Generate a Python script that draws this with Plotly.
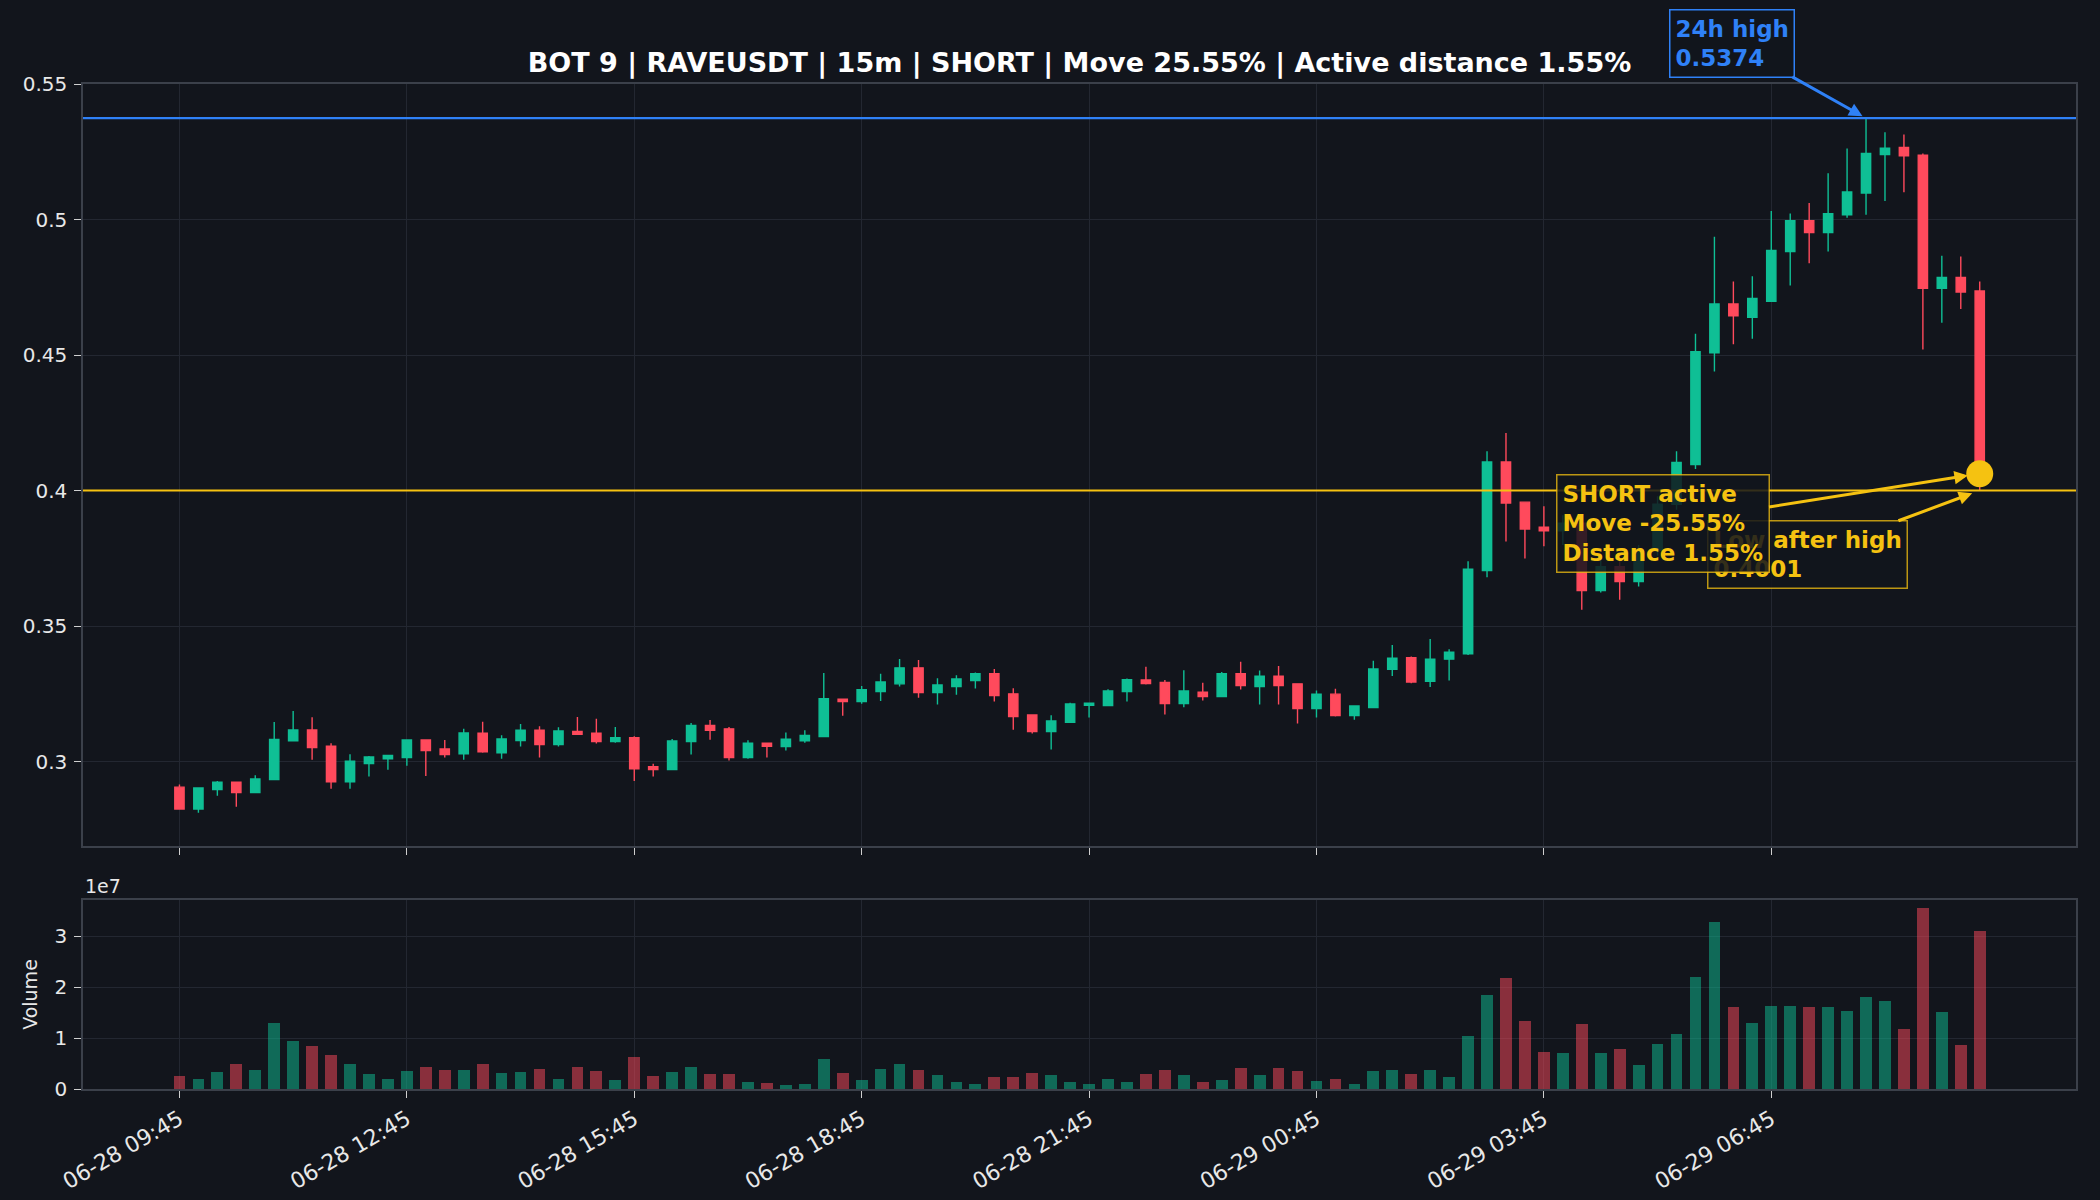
import pandas as pd
import plotly.graph_objects as go

# ---------------- data ----------------
start_time = "2025-06-28 09:45"
opens = [0.2907, 0.2826, 0.2898, 0.2925, 0.2887, 0.2935, 0.3078, 0.3118, 0.3058, 0.2927,
         0.2994, 0.3012, 0.3016, 0.3081, 0.3048, 0.3030, 0.3106, 0.3034, 0.3079, 0.3117,
         0.3064, 0.3112, 0.3106, 0.3075, 0.3089, 0.2982, 0.2972, 0.3075, 0.3135, 0.3122,
         0.3016, 0.3069, 0.3057, 0.3078, 0.3094, 0.3231, 0.3223, 0.3260, 0.3288, 0.3347,
         0.3256, 0.3278, 0.3300, 0.3325, 0.3251, 0.3173, 0.3112, 0.3146, 0.3209, 0.3208,
         0.3260, 0.3302, 0.3293, 0.3215, 0.3257, 0.3241, 0.3325, 0.3278, 0.3316, 0.3288,
         0.3197, 0.3250, 0.3171, 0.3201, 0.3342, 0.3384, 0.3297, 0.3379, 0.3399, 0.3706,
         0.4106, 0.3958, 0.3866, 0.3852, 0.3880, 0.3632, 0.3720, 0.3665, 0.3780, 0.3950,
         0.4097, 0.4509, 0.4689, 0.4640, 0.4699, 0.4882, 0.4996, 0.4952, 0.5018, 0.5098,
         0.5240, 0.5266, 0.5237, 0.4747, 0.4787, 0.4737]
highs = [0.2917, 0.2904, 0.2930, 0.2928, 0.2951, 0.3147, 0.3188, 0.3165, 0.3069, 0.3028,
         0.3022, 0.3024, 0.3083, 0.3083, 0.3081, 0.3122, 0.3148, 0.3098, 0.3140, 0.3132,
         0.3128, 0.3166, 0.3159, 0.3129, 0.3095, 0.2993, 0.3085, 0.3144, 0.3155, 0.3129,
         0.3080, 0.3069, 0.3109, 0.3117, 0.3328, 0.3231, 0.3280, 0.3325, 0.3380, 0.3376,
         0.3309, 0.3320, 0.3330, 0.3343, 0.3272, 0.3176, 0.3172, 0.3218, 0.3217, 0.3268,
         0.3308, 0.3351, 0.3302, 0.3338, 0.3292, 0.3332, 0.3369, 0.3337, 0.3354, 0.3288,
         0.3263, 0.3270, 0.3207, 0.3373, 0.3431, 0.3389, 0.3453, 0.3416, 0.3740, 0.4146,
         0.4213, 0.3958, 0.3943, 0.3910, 0.3890, 0.3750, 0.3740, 0.3800, 0.3980, 0.4146,
         0.4579, 0.4937, 0.4772, 0.4791, 0.5032, 0.5022, 0.5061, 0.5171, 0.5262, 0.5374,
         0.5322, 0.5314, 0.5244, 0.4867, 0.4864, 0.4772]
lows = [0.2824, 0.2813, 0.2875, 0.2835, 0.2887, 0.2935, 0.3078, 0.3008, 0.2901, 0.2901,
        0.2946, 0.2971, 0.2986, 0.2948, 0.3016, 0.3008, 0.3034, 0.3012, 0.3057, 0.3016,
        0.3057, 0.3102, 0.3068, 0.3071, 0.2930, 0.2946, 0.2972, 0.3027, 0.3082, 0.3005,
        0.3012, 0.3016, 0.3042, 0.3071, 0.3094, 0.3170, 0.3215, 0.3225, 0.3278, 0.3237,
        0.3212, 0.3248, 0.3271, 0.3223, 0.3119, 0.3105, 0.3046, 0.3146, 0.3164, 0.3208,
        0.3223, 0.3286, 0.3175, 0.3202, 0.3227, 0.3241, 0.3267, 0.3212, 0.3212, 0.3142,
        0.3164, 0.3168, 0.3156, 0.3201, 0.3317, 0.3290, 0.3276, 0.3300, 0.3394, 0.3681,
        0.3813, 0.3750, 0.3795, 0.3800, 0.3561, 0.3625, 0.3598, 0.3647, 0.3760, 0.3930,
        0.4080, 0.4440, 0.4540, 0.4561, 0.4699, 0.4757, 0.4839, 0.4882, 0.5007, 0.5018,
        0.5069, 0.5101, 0.4521, 0.4620, 0.4670, 0.4001]
closes = [0.2826, 0.2904, 0.2925, 0.2887, 0.2937, 0.3083, 0.3118, 0.3053, 0.2927, 0.3003,
          0.3018, 0.3024, 0.3081, 0.3042, 0.3027, 0.3107, 0.3037, 0.3085, 0.3117, 0.3064,
          0.3114, 0.3102, 0.3075, 0.3089, 0.2975, 0.2972, 0.3077, 0.3135, 0.3117, 0.3016,
          0.3069, 0.3058, 0.3084, 0.3098, 0.3233, 0.3223, 0.3266, 0.3295, 0.3347, 0.3256,
          0.3284, 0.3306, 0.3325, 0.3245, 0.3167, 0.3112, 0.3151, 0.3214, 0.3217, 0.3262,
          0.3303, 0.3289, 0.3215, 0.3262, 0.3241, 0.3325, 0.3282, 0.3316, 0.3282, 0.3197,
          0.3250, 0.3171, 0.3206, 0.3343, 0.3383, 0.3295, 0.3379, 0.3405, 0.3711, 0.4106,
          0.3955, 0.3859, 0.3852, 0.3880, 0.3632, 0.3720, 0.3665, 0.3780, 0.3950, 0.4104,
          0.4513, 0.4689, 0.4645, 0.4709, 0.4886, 0.4996, 0.4952, 0.5022, 0.5102, 0.5244,
          0.5263, 0.5235, 0.4747, 0.4787, 0.4733, 0.4063]
volumes = [2.6e6, 2.0e6, 3.4e6, 5.0e6, 3.8e6, 12.9e6, 9.5e6, 8.5e6, 6.6e6, 5.0e6,
           3.0e6, 2.0e6, 3.6e6, 4.4e6, 3.8e6, 3.8e6, 5.0e6, 3.2e6, 3.4e6, 4.0e6,
           2.0e6, 4.4e6, 3.6e6, 1.8e6, 6.2e6, 2.6e6, 3.4e6, 4.4e6, 3.0e6, 3.0e6,
           1.4e6, 1.2e6, 0.7e6, 0.9e6, 5.8e6, 3.2e6, 1.8e6, 4.0e6, 5.0e6, 3.8e6,
           2.8e6, 1.4e6, 1.0e6, 2.4e6, 2.4e6, 3.2e6, 2.8e6, 1.4e6, 0.9e6, 2.0e6,
           1.4e6, 3.0e6, 3.8e6, 2.8e6, 1.4e6, 1.8e6, 4.2e6, 2.8e6, 4.2e6, 3.6e6,
           1.6e6, 2.0e6, 1.0e6, 3.6e6, 3.8e6, 3.0e6, 3.8e6, 2.4e6, 10.5e6, 18.4e6,
           21.8e6, 13.4e6, 7.3e6, 7.1e6, 12.7e6, 7.1e6, 7.9e6, 4.8e6, 8.9e6, 10.7e6,
           22.0e6, 32.8e6, 16.0e6, 13.0e6, 16.2e6, 16.2e6, 16.0e6, 16.0e6, 15.4e6, 18.0e6,
           17.2e6, 11.7e6, 35.5e6, 15.2e6, 8.7e6, 31.1e6]
high_24h = 0.5374
low_after_high = 0.4001
last_price = closes[-1]
price_ticks = [0.3, 0.35, 0.4, 0.45, 0.5, 0.55]
price_tick_labels = ["0.3", "0.35", "0.4", "0.45", "0.5", "0.55"]
volume_ticks = [0, 1e7, 2e7, 3e7]
volume_tick_labels = ["0", "1", "2", "3"]
title_text = "BOT 9 | RAVEUSDT | 15m | SHORT | Move 25.55% | Active distance 1.55%"
high_label = "24h high<br>0.5374"
short_label = "SHORT active<br>Move -25.55%<br>Distance 1.55%"
low_label = "Low after high<br>0.4001"

# ---------------- styling ----------------
BG = "#12151c"
UP = "#0fbf95"
DN = "#ff4a5c"
GOLD = "#f5c211"
BLUE = "#2f81f7"
GRID = "#232731"
SPINE = "#3b404a"
TXT = "#e8e8e8"
FONT = "DejaVu Sans"

times = pd.date_range(start_time, periods=len(closes), freq="15min")
x = [t.strftime("%Y-%m-%d %H:%M:%S") for t in times]
step = pd.Timedelta(minutes=15)
x_range = [(times[0] - 5.09 * step).strftime("%Y-%m-%d %H:%M:%S"),
           (times[0] + 100.08 * step).strftime("%Y-%m-%d %H:%M:%S")]
tick_vals = x[::12]
tick_text = [t.strftime("%m-%d %H:%M") for t in times[::12]]
vol_colors = [UP if c >= o else DN for o, c in zip(opens, closes)]

fig = go.Figure()
fig.add_trace(go.Candlestick(
    x=x, open=opens, high=highs, low=lows, close=closes,
    increasing=dict(line=dict(color=UP, width=1.4), fillcolor=UP),
    decreasing=dict(line=dict(color=DN, width=1.4), fillcolor=DN),
    whiskerwidth=0, xaxis="x", yaxis="y", showlegend=False, hoverinfo="skip"))
fig.add_trace(go.Bar(
    x=x, y=volumes, marker=dict(color=vol_colors, line=dict(width=0)), opacity=0.5,
    width=0.62 * 15 * 60 * 1000, xaxis="x2", yaxis="y2", showlegend=False))
fig.add_trace(go.Scatter(
    x=[x[-1]], y=[last_price], mode="markers",
    marker=dict(size=27, color=GOLD), xaxis="x", yaxis="y", showlegend=False))

fig.add_shape(type="line", xref="x domain", yref="y", x0=0, x1=1,
              y0=high_24h, y1=high_24h, line=dict(color=BLUE, width=2.2), layer="above")
fig.add_shape(type="line", xref="x domain", yref="y", x0=0, x1=1,
              y0=low_after_high, y1=low_after_high, line=dict(color=GOLD, width=2.2), layer="above")

ann_font = dict(family=FONT, size=23, color=GOLD)
fig.add_annotation(x=x[89], y=high_24h, xref="x", yref="y", text="<b>" + high_label + "</b>",
                   showarrow=True, ax=-134, ay=-75, arrowcolor=BLUE, arrowwidth=3, arrowhead=2,
                   arrowsize=0.9, standoff=4, align="left", bgcolor="rgba(18,21,28,0.85)",
                   bordercolor=BLUE, borderwidth=1.5, borderpad=5,
                   font=dict(family=FONT, size=23, color=BLUE))
fig.add_annotation(x=x[-1], y=low_after_high, xref="x", yref="y", text="<b>" + low_label + "</b>",
                   showarrow=True, ax=-172, ay=64, arrowcolor=GOLD, arrowwidth=3, arrowhead=2,
                   arrowsize=0.9, standoff=8, align="left", bgcolor="rgba(18,21,28,0.85)",
                   bordercolor="rgba(245,194,17,0.75)", borderwidth=1.5, borderpad=5,
                   font=ann_font)
fig.add_annotation(x=x[-1], y=last_price, xref="x", yref="y", text="<b>" + short_label + "</b>",
                   showarrow=True, ax=-317, ay=50, arrowcolor=GOLD, arrowwidth=3, arrowhead=2,
                   arrowsize=0.9, standoff=12, align="left", bgcolor="rgba(18,21,28,0.85)",
                   bordercolor="rgba(245,194,17,0.75)", borderwidth=1.5, borderpad=5,
                   font=ann_font)
fig.add_annotation(x=0, y=(1089 - 886) / 1005, xref="paper", yref="paper", text="1e7",
                   showarrow=False, xanchor="left", yanchor="middle",
                   font=dict(family=FONT, size=19, color=TXT))

axis_common = dict(showgrid=True, gridcolor=GRID, gridwidth=1, showline=True, mirror=True,
                   linecolor=SPINE, linewidth=1.5, zeroline=False, ticks="outside",
                   ticklen=7, tickwidth=1.3, tickcolor="#cfcfcf", automargin=False)

fig.update_layout(
    width=2100, height=1200,
    margin=dict(l=83, r=24, t=84, b=111, autoexpand=False),
    paper_bgcolor=BG, plot_bgcolor=BG,
    font=dict(family=FONT, color=TXT),
    title=dict(text="<b>" + title_text + "</b>", x=(83 + 2076) / 2 / 2100, xanchor="center",
               y=1 - 63 / 1200, yanchor="middle", automargin=False,
               font=dict(family=FONT, size=27, color="#ffffff")),
    showlegend=False,
    bargap=0,
    xaxis=dict(domain=[0, 1], anchor="y", range=x_range, type="date",
               tickvals=tick_vals, ticktext=tick_text, showticklabels=False,
               rangeslider=dict(visible=False), **axis_common),
    xaxis2=dict(domain=[0, 1], anchor="y2", range=x_range, type="date", matches="x",
                tickvals=tick_vals, ticktext=tick_text, tickangle=-30,
                tickfont=dict(family=FONT, size=22, color=TXT), **axis_common),
    yaxis=dict(domain=[(1089 - 846) / 1005, 1], anchor="x", range=[0.2690, 0.5500],
               tickvals=price_ticks, ticktext=price_tick_labels, ticklabelstandoff=3,
               tickfont=dict(family=FONT, size=20, color=TXT), **axis_common),
    yaxis2=dict(domain=[0, (1089 - 900) / 1005], anchor="x2", range=[0, 3.71e7],
                tickvals=volume_ticks, ticktext=volume_tick_labels, ticklabelstandoff=3,
                tickfont=dict(family=FONT, size=20, color=TXT),
                title=dict(text="Volume", font=dict(family=FONT, size=19, color=TXT), standoff=12),
                **axis_common),
)

fig.write_html("out.html")
